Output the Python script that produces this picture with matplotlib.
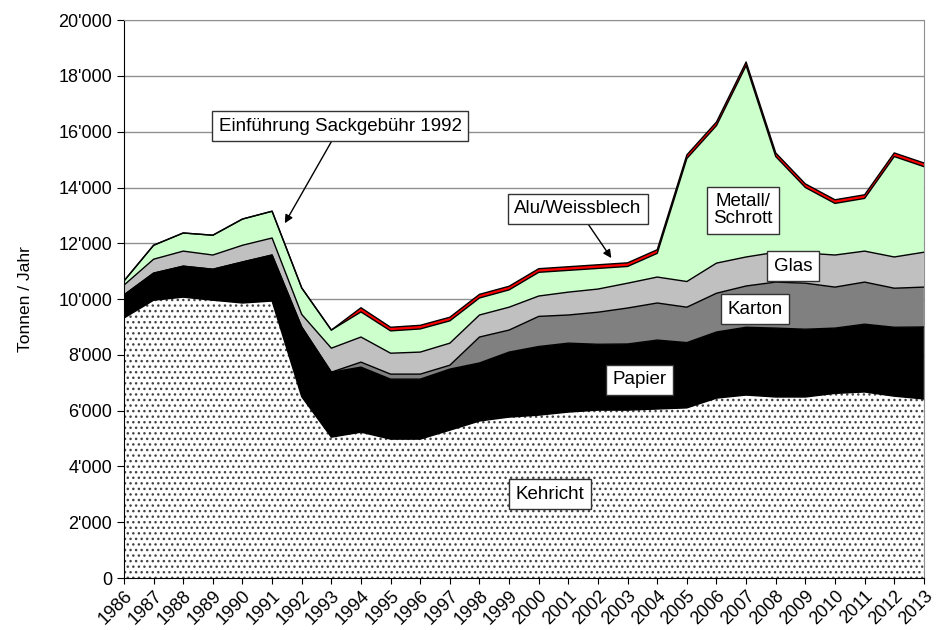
import matplotlib
matplotlib.use("Agg")
import matplotlib.pyplot as plt
from matplotlib.ticker import FuncFormatter
import numpy as np

plt.rcParams['font.family'] = ['Liberation Sans', 'DejaVu Sans']
plt.rcParams['hatch.color'] = '#444444'
plt.rcParams['hatch.linewidth'] = 1.0

years = list(range(1986, 2014))
kehricht = [9320, 9960, 10070, 9960, 9860, 9930, 6500, 5050, 5230, 4980,
            4980, 5300, 5630, 5770, 5840, 5950, 6020, 6020, 6060, 6100,
            6450, 6560, 6490, 6490, 6620, 6670, 6520, 6420]
papier = [830, 970, 1110, 1110, 1470, 1650, 2500, 2330, 2330, 2150,
          2150, 2190, 2080, 2330, 2460, 2470, 2360, 2370, 2470, 2340,
          2370, 2430, 2470, 2430, 2340, 2430, 2470, 2580]
karton = [0, 0, 0, 0, 0, 0, 0, 0, 180, 180,
          180, 140, 930, 790, 1080, 1010, 1150, 1290, 1330, 1270,
          1390, 1480, 1650, 1650, 1470, 1510, 1400, 1430]
glas = [350, 500, 540, 510, 600, 610, 450, 860, 900, 750,
        790, 790, 790, 820, 730, 820, 830, 890, 930, 920,
        1080, 1040, 1070, 1080, 1150, 1110, 1120, 1250]
metall = [150, 500, 650, 710, 940, 960, 950, 650, 900, 800,
          830, 800, 610, 620, 850, 780, 740, 600, 850, 4410,
          4930, 6860, 3430, 2350, 1850, 1890, 3600, 3070]
alu = [0, 0, 0, 0, 0, 0, 0, 0, 150, 130,
       130, 130, 130, 130, 130, 130, 130, 130, 130, 130,
       130, 130, 130, 130, 130, 130, 130, 130]

layers = [kehricht, papier, karton, glas, metall, alu]
colors = ['white', 'black', '#808080', '#c0c0c0', '#ccffcc', '#ff0000']

fig = plt.figure(figsize=(9.37, 6.3), dpi=100)
ax = fig.add_axes([0.1323, 0.0825, 0.8537, 0.8855])

ax.yaxis.grid(True, color='#909090', linewidth=1)
ax.set_axisbelow(True)

polys = ax.stackplot(years, *layers, colors=colors, linewidth=0, zorder=2)
polys[0].set_hatch('...')
polys[0].set_edgecolor('#444444')

tops = np.cumsum(np.array(layers), axis=0)
for top in tops:
    ax.plot(years, top, color='black', linewidth=1, zorder=3)

ax.set_xlim(1986, 2013)
ax.set_ylim(0, 20000)
ax.set_xticks(years)
ax.set_xticklabels([str(y) for y in years], rotation=45, ha='right',
                   rotation_mode='anchor', fontsize=13)
ax.set_yticks(range(0, 20001, 2000))
ax.yaxis.set_major_formatter(FuncFormatter(lambda v, p: f"{int(v):,}".replace(',', "'")))
ax.tick_params(axis='y', labelsize=13, length=5, direction='out')
ax.tick_params(axis='x', length=4, direction='out', pad=3)
ax.set_ylabel('Tonnen / Jahr', fontsize=12.5, labelpad=18)

for side in ['top', 'right']:
    ax.spines[side].set_color('#909090')
for side in ['left', 'bottom']:
    ax.spines[side].set_color('black')

box = dict(boxstyle='square,pad=0.35', facecolor='white', edgecolor='#333333', linewidth=1)
arrow = dict(arrowstyle='-|>', color='black', linewidth=1, mutation_scale=12, shrinkA=0, shrinkB=0)

ax.annotate('Einführung Sackgebühr 1992', xy=(1991.43, 12720), xytext=(1993.3, 16200),
            ha='center', va='center', fontsize=13.5, bbox=box, arrowprops=arrow, zorder=5)
ax.annotate('Alu/Weissblech', xy=(2002.45, 11470), xytext=(2001.32, 13230),
            ha='center', va='center', fontsize=13.5, bbox=box, arrowprops=arrow, zorder=5)

labels = [('Metall/\nSchrott', 2006.89, 13190), ('Glas', 2008.58, 11180),
          ('Karton', 2007.3, 9640), ('Papier', 2003.41, 7100), ('Kehricht', 2000.38, 3010)]
for text, x, y in labels:
    ax.text(x, y, text, ha='center', va='center', fontsize=13.5, bbox=box,
            zorder=5, linespacing=1.0)

fig.savefig('out.png', dpi=100)
